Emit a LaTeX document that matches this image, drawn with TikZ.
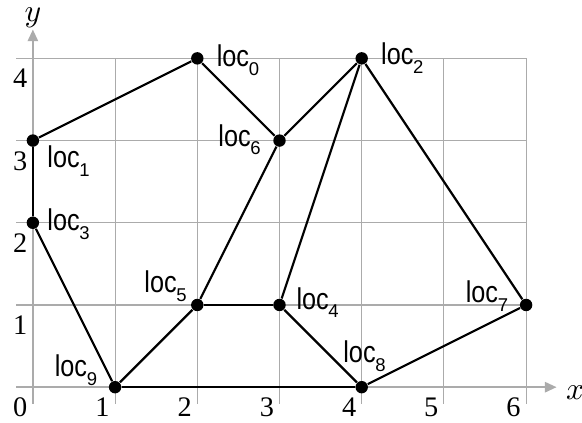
\documentclass[tikz,border=0pt]{standalone}
\usepackage{fontspec}
\setmainfont{Liberation Serif}
\newfontfamily\locfont[FakeStretch=0.84]{Liberation Sans}
\newfontfamily\subfont{Liberation Sans}
\usetikzlibrary{arrows.meta}
\definecolor{gridgray}{HTML}{ABABAB}
\newcommand\locl[1]{{\locfont\fontsize{10.4}{12}\selectfont loc}\hspace{-0.1pt}\raisebox{-3pt}{\subfont\fontsize{6.4}{7}\selectfont #1}}
\tikzset{
  gridline/.style={gridgray, line width=0.4pt},
  axisline/.style={gridgray, line width=0.5pt, -{Triangle[length=4pt,width=3.6pt]}},
  ticklab/.style={anchor=base east, inner sep=0pt, font=\fontsize{9.8}{11}\selectfont},
  dot/.style={circle, fill=black, inner sep=0pt, minimum size=4.3pt},
  loclab/.style={anchor=base west, inner sep=0pt},
  edge/.style={line width=0.75pt, black}
}
\begin{document}
\begin{tikzpicture}
\useasboundingbox (-0.40,-0.425) rectangle (6.68,4.71);
% grid
\foreach \x in {0,...,6} \draw[gridline] (\x,-0.2) -- (\x,4);
\foreach \y in {0,...,4} \draw[gridline] (-0.2,\y) -- (6,\y);
% axes
\draw[axisline] (0,-0.2) -- (0,4.35);
\draw[axisline] (-0.2,0) -- (6.37,0);
\node[anchor=base west, inner sep=0pt, font=\fontsize{11}{13}\selectfont] (xl) at (6.48,-0.15) {$x$};
\node[anchor=base, inner sep=0pt, font=\fontsize{11}{13}\selectfont] (yl) at (0.0,4.45) {$y$};
\foreach \x in {0,...,6} \node[ticklab] (tx\x) at (\x-0.06,-0.36) {\x};
\foreach \y in {1,...,4} \node[ticklab] (ty\y) at (-0.06,\y-0.36) {\y};
% nodes
\node[dot] (l0) at (2,4) {};
\node[dot] (l1) at (0,3) {};
\node[dot] (l2) at (4,4) {};
\node[dot] (l3) at (0,2) {};
\node[dot] (l4) at (3,1) {};
\node[dot] (l5) at (2,1) {};
\node[dot] (l6) at (3,3) {};
\node[dot] (l7) at (6,1) {};
\node[dot] (l8) at (4,0) {};
\node[dot] (l9) at (1,0) {};
% edges
\draw[edge] (l0) -- (l1);
\draw[edge] (l1) -- (l3);
\draw[edge] (l3) -- (l9);
\draw[edge] (l9) -- (l5);
\draw[edge] (l9) -- (l8);
\draw[edge] (l5) -- (l4);
\draw[edge] (l5) -- (l6);
\draw[edge] (l6) -- (l0);
\draw[edge] (l6) -- (l2);
\draw[edge] (l2) -- (l4);
\draw[edge] (l2) -- (l7);
\draw[edge] (l4) -- (l8);
\draw[edge] (l8) -- (l7);
% labels
\node[loclab] (t0) at (2.23,3.90) {\locl{0}};
\node[loclab] (t1) at (0.17,2.67) {\locl{1}};
\node[loclab] (t2) at (4.23,3.92) {\locl{2}};
\node[loclab] (t3) at (0.17,1.90) {\locl{3}};
\node[loclab] (t4) at (3.20,0.95) {\locl{4}};
\node[loclab] (t5) at (1.35,1.15) {\locl{5}};
\node[loclab] (t6) at (2.25,2.93) {\locl{6}};
\node[loclab] (t7) at (5.26,1.03) {\locl{7}};
\node[loclab] (t8) at (3.77,0.30) {\locl{8}};
\node[loclab] (t9) at (0.26,0.13) {\locl{9}};
\end{tikzpicture}
\end{document}
